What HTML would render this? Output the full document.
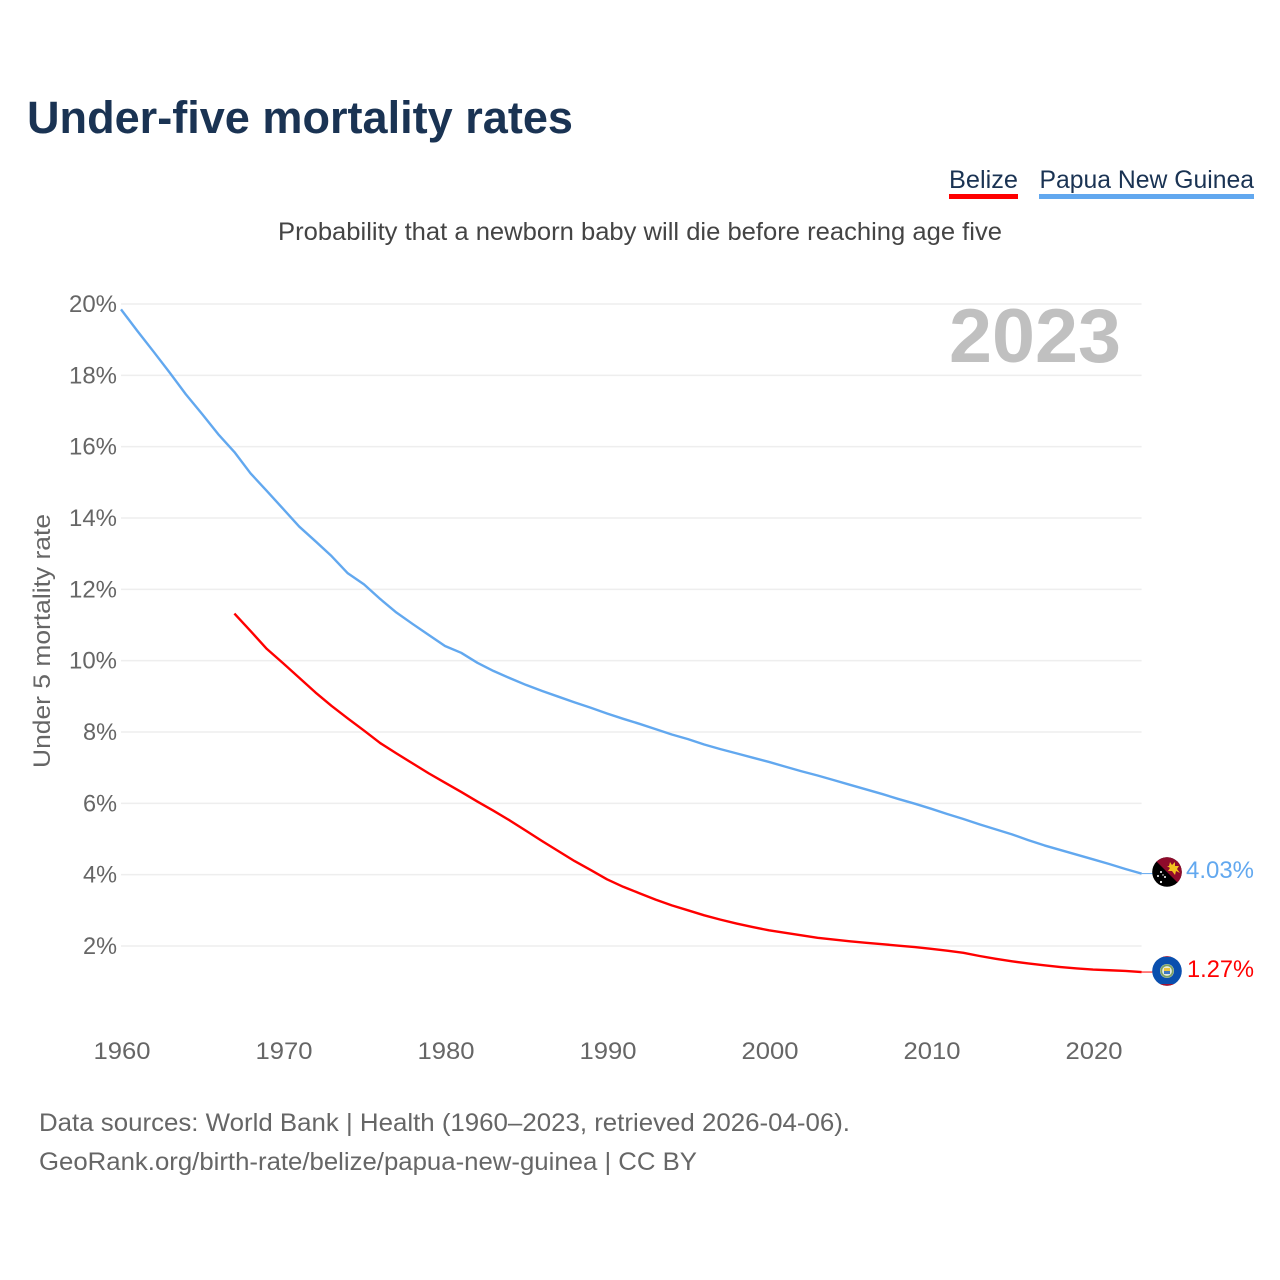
<!DOCTYPE html>
<html lang="en">
<head>
<meta charset="utf-8">
<title>Under-five mortality rates</title>
<style>
html,body{margin:0;padding:0;background:#fff;width:1280px;height:1280px;overflow:hidden}
svg{display:block}
text{font-family:"Liberation Sans",sans-serif}
</style>
</head>
<body>
<svg id="chart" xmlns="http://www.w3.org/2000/svg" width="1280" height="1280" viewBox="0 0 1280 1280">
  <defs>
    <clipPath id="flag-clip-png"><circle cx="1167" cy="872" r="14.8"/></clipPath>
    <clipPath id="flag-clip-blz"><circle cx="1167" cy="971" r="14.8"/></clipPath>
  </defs>
  <rect width="1280" height="1280" fill="#fff"/>
  <text x="27" y="133" font-size="45" font-weight="700" fill="#1a3353" textLength="546" lengthAdjust="spacingAndGlyphs">Under-five mortality rates</text>

  <g>
    <text x="949" y="188" font-size="25" fill="#1a3353" textLength="69" lengthAdjust="spacingAndGlyphs">Belize</text>
    <rect x="949" y="194" width="69" height="5" fill="#ff0000"/>
  </g>
  <g>
    <text x="1039.500" y="188" font-size="25" fill="#1a3353" textLength="214.500" lengthAdjust="spacingAndGlyphs">Papua New Guinea</text>
    <rect x="1039" y="194" width="215" height="5" fill="#62a8ef"/>
  </g>

  <text x="278" y="240" font-size="25" fill="#444444" textLength="724" lengthAdjust="spacingAndGlyphs">Probability that a newborn baby will die before reaching age five</text>

  <g id="grid"></g>
  <g id="y-ticks"></g>
  <g id="x-ticks"></g>
  <text transform="translate(50,641) rotate(-90)" text-anchor="middle" font-size="24" fill="#666666" textLength="254" lengthAdjust="spacingAndGlyphs">Under 5 mortality rate</text>

  <text x="949" y="362" font-size="76" font-weight="700" fill="#c0c0c0" textLength="172" lengthAdjust="spacingAndGlyphs">2023</text>

  <g id="series"></g>

  <g clip-path="url(#flag-clip-png)">
    <rect x="1150" y="855" width="34" height="34" fill="#000000"/>
    <polygon points="1150,855 1184,855 1184,889" fill="#8f0b2b"/>
    <polygon points="1167,866 1169,866 1170,862 1172,865 1175,862 1175,866 1179,866 1177,869 1180,873 1176,871 1175,875 1172,871 1168,871 1170,868" fill="#f3c21f"/>
    <g fill="#ffffff">
      <circle cx="1161" cy="872" r="1"/><circle cx="1158" cy="876" r="1"/>
      <circle cx="1165" cy="877" r="1"/><circle cx="1161" cy="882" r="1.1"/>
      <circle cx="1163" cy="875" r="0.7"/>
    </g>
  </g>
  <g clip-path="url(#flag-clip-blz)">
    <rect x="1150" y="954" width="34" height="34" fill="#0a4fae"/>
    <rect x="1150" y="954" width="34" height="3" fill="#a5122f"/>
    <rect x="1150" y="984" width="34" height="5" fill="#a5122f"/>
    <circle cx="1167" cy="971" r="7" fill="#e6ebdf"/>
    <circle cx="1167" cy="971" r="5.8" fill="none" stroke="#7a9f62" stroke-width="1.8"/>
    <rect x="1164" y="968" width="6" height="3" fill="#e9c23c"/>
    <rect x="1164" y="971" width="6" height="3" fill="#3f79c4"/>
  </g>

  <text x="1186" y="878" font-size="24" fill="#62a8ef" textLength="68" lengthAdjust="spacingAndGlyphs">4.03%</text>
  <text x="1187" y="977" font-size="24" fill="#ff0000" textLength="67" lengthAdjust="spacingAndGlyphs">1.27%</text>

  <text x="39" y="1131" font-size="25" fill="#666666" textLength="811" lengthAdjust="spacingAndGlyphs">Data sources: World Bank | Health (1960–2023, retrieved 2026-04-06).</text>
  <text x="39" y="1170" font-size="25" fill="#666666" textLength="658" lengthAdjust="spacingAndGlyphs">GeoRank.org/birth-rate/belize/papua-new-guinea | CC BY</text>
</svg>
<script>
const yTickValues = [20, 18, 16, 14, 12, 10, 8, 6, 4, 2];
const xTickYears = [1960, 1970, 1980, 1990, 2000, 2010, 2020];
const firstYearPng = 1960;
const firstYearBelize = 1967;
const pngValues = [19.85,19.25,18.67,18.08,17.47,16.92,16.35,15.85,15.25,14.76,
  14.26,13.76,13.35,12.93,12.45,12.14,11.73,11.35,11.03,10.72,
  10.41,10.22,9.94,9.71,9.51,9.32,9.15,8.99,8.83,8.68,
  8.52,8.37,8.23,8.08,7.93,7.80,7.65,7.52,7.40,7.28,
  7.16,7.03,6.90,6.78,6.65,6.52,6.39,6.26,6.12,5.99,
  5.85,5.70,5.56,5.41,5.27,5.13,4.97,4.82,4.69,4.56,
  4.43,4.30,4.16,4.03];
const belizeValues = [11.32,10.83,10.33,9.93,9.52,9.11,8.73,8.38,8.04,7.69,
  7.40,7.12,6.84,6.58,6.32,6.05,5.79,5.52,5.23,4.94,
  4.66,4.38,4.13,3.87,3.66,3.48,3.30,3.14,3.00,2.86,
  2.74,2.63,2.53,2.44,2.37,2.30,2.23,2.18,2.13,2.09,
  2.05,2.01,1.97,1.92,1.87,1.81,1.72,1.64,1.57,1.51,
  1.46,1.41,1.37,1.34,1.32,1.30,1.27];

const NS = 'http://www.w3.org/2000/svg';
const xOf = function (year) { return 121 + (year - 1960) * 16.2; };
const yOf = function (value) { return 304 + (20 - value) * (642 / 18); };
const pathFor = function (values, startYear) {
  return values.map(function (v, i) {
    return (i ? 'L' : 'M') + xOf(startYear + i).toFixed(2) + ' ' + yOf(v).toFixed(2);
  }).join(' ');
};

const gridGroup = document.getElementById('grid');
const yTickGroup = document.getElementById('y-ticks');
const xTickGroup = document.getElementById('x-ticks');
const seriesGroup = document.getElementById('series');

yTickValues.forEach(function (v) {
  const line = document.createElementNS(NS, 'line');
  
  
  line.setAttribute('x1', xOf(1960));
  line.setAttribute('x2', xOf(2023));
  line.setAttribute('y1', yOf(v));
  line.setAttribute('y2', yOf(v));
  line.setAttribute('stroke', '#eeeeee');
  line.setAttribute('stroke-width', '1.5');
  gridGroup.appendChild(line);

  const label = document.createElementNS(NS, 'text');
  
  
  label.setAttribute('x', 117);
  label.setAttribute('y', yOf(v) + 8);
  label.setAttribute('text-anchor', 'end');
  label.setAttribute('font-size', '24');
  label.setAttribute('fill', '#666666');
  label.setAttribute('textLength', String(v).length * 14 + 20);
  label.setAttribute('lengthAdjust', 'spacingAndGlyphs');
  label.textContent = v + '%';
  yTickGroup.appendChild(label);
});

xTickYears.forEach(function (year) {
  const label = document.createElementNS(NS, 'text');
  
  
  label.setAttribute('x', xOf(year) + 1);
  label.setAttribute('y', 1059);
  label.setAttribute('text-anchor', 'middle');
  label.setAttribute('font-size', '24');
  label.setAttribute('fill', '#666666');
  label.setAttribute('textLength', '57');
  label.setAttribute('lengthAdjust', 'spacingAndGlyphs');
  label.textContent = year;
  xTickGroup.appendChild(label);
});

const pngLine = document.createElementNS(NS, 'path');


pngLine.setAttribute('d', pathFor(pngValues, firstYearPng));
pngLine.setAttribute('fill', 'none');
pngLine.setAttribute('stroke', '#62a8ef');
pngLine.setAttribute('stroke-width', '2.4');
pngLine.setAttribute('stroke-linejoin', 'round');
seriesGroup.appendChild(pngLine);

const belizeLine = document.createElementNS(NS, 'path');


belizeLine.setAttribute('d', pathFor(belizeValues, firstYearBelize));
belizeLine.setAttribute('fill', 'none');
belizeLine.setAttribute('stroke', '#ff0000');
belizeLine.setAttribute('stroke-width', '2.4');
belizeLine.setAttribute('stroke-linejoin', 'round');
seriesGroup.appendChild(belizeLine);

const pngLeader = document.createElementNS(NS, 'line');


pngLeader.setAttribute('x1', xOf(2023));
pngLeader.setAttribute('x2', 1153);
pngLeader.setAttribute('y1', yOf(pngValues[pngValues.length - 1]));
pngLeader.setAttribute('y2', yOf(pngValues[pngValues.length - 1]));
pngLeader.setAttribute('stroke', '#62a8ef');
pngLeader.setAttribute('stroke-width', '1');
seriesGroup.appendChild(pngLeader);

const belizeLeader = document.createElementNS(NS, 'line');


belizeLeader.setAttribute('x1', xOf(2023));
belizeLeader.setAttribute('x2', 1153);
belizeLeader.setAttribute('y1', yOf(belizeValues[belizeValues.length - 1]));
belizeLeader.setAttribute('y2', yOf(belizeValues[belizeValues.length - 1]));
belizeLeader.setAttribute('stroke', '#ff0000');
belizeLeader.setAttribute('stroke-width', '1');
seriesGroup.appendChild(belizeLeader);
</script>
</body>
</html>
